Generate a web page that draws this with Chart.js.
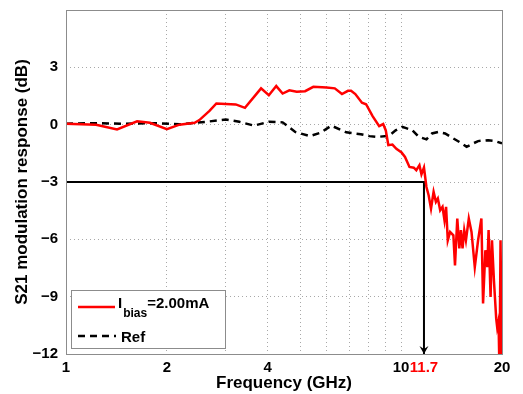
<!DOCTYPE html>
<html>
<head>
<meta charset="utf-8">
<script src="https://cdn.jsdelivr.net/npm/chart.js@4/dist/chart.umd.min.js"></script>
<style>
  html, body { margin: 0; padding: 0; background: #fff; }
  #wrap { width: 523px; height: 394px; }
</style>
</head>
<body>
<div id="wrap"><canvas id="myChart" width="523" height="394"></canvas></div>
<script>
// measured response, Ibias = 2.00 mA
const freqBias = [1.0, 1.23, 1.42, 1.63, 1.78, 2.0, 2.18, 2.42, 2.5, 2.68, 2.81, 3.21, 3.42, 3.82, 4.03, 4.24, 4.43, 4.64, 4.88, 5.17, 5.47, 5.99, 6.34, 6.66, 6.94, 7.09, 7.3, 7.64, 7.86, 8.22, 8.6, 8.84, 9.0, 9.16, 9.42, 9.68, 10.03, 10.27, 10.59, 10.91, 11.1, 11.34, 11.5, 11.7, 11.9, 12.08, 12.28, 12.5, 12.7, 12.87, 13.08, 13.29, 13.47, 13.62, 13.78, 14.0, 14.32, 14.48, 14.71, 14.92, 15.08, 15.25, 15.43, 15.61, 15.92, 16.22, 16.59, 16.97, 17.36, 17.56, 17.84, 18.08, 18.24, 18.49, 18.67, 18.92, 19.22, 19.35, 19.53, 19.66, 19.8, 19.98];
const dbBias = [0.05, 0, -0.25, 0.18, 0.1, -0.23, 0, 0.1, 0.24, 0.72, 1.11, 1.06, 0.88, 1.9, 1.54, 2.02, 1.63, 1.8, 1.72, 1.75, 1.98, 1.95, 1.9, 1.6, 1.77, 1.77, 1.6, 1.15, 1.07, 0.45, -0.08, 0.03, -0.3, -1.07, -1.04, -1.26, -1.45, -1.69, -2.21, -2.25, -2.38, -2.12, -2.6, -2.24, -3.26, -3.69, -4.39, -3.52, -4.04, -3.86, -4.48, -4.3, -5.0, -4.3, -6.05, -5.61, -5.79, -7.36, -4.91, -6.48, -5.52, -6.48, -5.52, -6.05, -4.91, -5.61, -7.45, -6.05, -4.91, -9.36, -6.57, -7.45, -5.52, -9.02, -6.05, -8.14, -10.15, -10.6, -10.24, -13, -6.05, -13];

// reference response
const freqRef = [1.0, 1.23, 1.5, 1.84, 2.18, 2.62, 3.0, 3.29, 3.64, 4.03, 4.43, 4.83, 5.35, 5.75, 6.19, 6.86, 7.58, 8.04, 8.5, 9.21, 9.63, 10.08, 10.3, 10.79, 11.29, 11.9, 12.36, 12.92, 13.53, 14.32, 15.16, 15.68, 16.41, 16.97, 18.18, 19.0, 20.0];
const dbRef = [0.05, 0.08, 0.05, 0.08, 0.02, 0.15, 0.27, 0.15, -0.05, 0.15, 0.12, -0.38, -0.6, -0.42, -0.05, -0.4, -0.5, -0.6, -0.64, -0.58, -0.3, -0.12, -0.17, -0.29, -0.64, -0.77, -0.46, -0.38, -0.46, -0.72, -0.98, -1.16, -0.98, -0.86, -0.81, -0.85, -0.98];

// -3 dB marker
const cutFreq = [1, 11.7, 11.7];
const cutDb = [-3, -3, -12];

const xTicks = [1, 2, 3, 4, 5, 6, 7, 8, 9, 10, 11.7, 20];
const xLabels = {1: '1', 2: '2', 4: '4', 10: '10', 11.7: '11.7', 20: '20'};
const yTicks = [-12, -9, -6, -3, 0, 3];

function pts(xs, ys) {
  return xs.map((x, i) => ({x: x, y: ys[i]}));
}

const FONT = '"Liberation Sans", Arial, sans-serif';
const RED = '#ff0000';

const extras = {
  id: 'extras',
  afterDatasetsDraw(chart) {
    const ctx = chart.ctx;
    const a = chart.chartArea;
    const xs = chart.scales.x, ys = chart.scales.y;
    ctx.save();
    // arrow head of the cut-off marker
    const tx = xs.getPixelForValue(11.7), ty = ys.getPixelForValue(-12);
    ctx.fillStyle = '#000';
    ctx.beginPath();
    ctx.moveTo(tx, ty);
    ctx.lineTo(tx - 4.5, ty - 8);
    ctx.lineTo(tx, ty - 5);
    ctx.lineTo(tx + 4.5, ty - 8);
    ctx.closePath();
    ctx.fill();

    // frame
    ctx.strokeStyle = '#8c8c8c';
    ctx.lineWidth = 1;
    ctx.strokeRect(a.left + 0.5, a.top + 0.5, a.right - a.left, a.bottom - a.top);

    // legend
    const lx = 71, ly = 290, lw = 154, lh = 58;
    ctx.fillStyle = '#fff';
    ctx.fillRect(lx, ly, lw, lh);
    ctx.strokeStyle = '#8c8c8c';
    ctx.strokeRect(lx + 0.5, ly + 0.5, lw, lh);

    ctx.lineWidth = 2.5;
    ctx.strokeStyle = RED;
    ctx.beginPath();
    ctx.moveTo(78, 307);
    ctx.lineTo(115, 307);
    ctx.stroke();

    ctx.strokeStyle = '#000';
    ctx.setLineDash([7, 5]);
    ctx.beginPath();
    ctx.moveTo(78, 336);
    ctx.lineTo(116, 336);
    ctx.stroke();
    ctx.setLineDash([]);

    ctx.fillStyle = '#000';
    ctx.textBaseline = 'alphabetic';
    ctx.textAlign = 'left';
    ctx.font = 'bold 15px ' + FONT;
    ctx.fillText('I', 118, 308);
    let w = ctx.measureText('I').width;
    ctx.font = 'bold 12px ' + FONT;
    ctx.fillText('bias', 119 + w, 317);
    const w2 = ctx.measureText('bias').width;
    ctx.font = 'bold 15px ' + FONT;
    ctx.fillText('=2.00mA', 119 + w + w2, 308);
    ctx.fillText('Ref', 121, 342);
    ctx.restore();
  }
};

const canvas = document.getElementById('myChart');
const myChart = new Chart(canvas.getContext('2d'), {
  type: 'line',
  data: {
    datasets: [
      {
        label: 'Ibias=2.00mA',
        data: pts(freqBias, dbBias),
        borderColor: RED,
        borderWidth: 2.5,
        pointRadius: 0,
        tension: 0
      },
      {
        label: 'Ref',
        data: pts(freqRef, dbRef),
        borderColor: '#000',
        borderWidth: 2.5,
        borderDash: [7, 5],
        pointRadius: 0,
        tension: 0
      },
      {
        label: 'cut',
        data: pts(cutFreq, cutDb),
        borderColor: '#000',
        borderWidth: 2,
        pointRadius: 0,
        tension: 0
      }
    ]
  },
  options: {
    responsive: false,
    animation: false,
    layout: { padding: { top: 10, right: 21, left: 0, bottom: 0 } },
    plugins: {
      legend: { display: false },
      tooltip: { enabled: false }
    },
    scales: {
      x: {
        type: 'logarithmic',
        min: 1,
        max: 20,
        afterBuildTicks: (s) => { s.ticks = xTicks.map(v => ({value: v})); },
        afterFit: (s) => { s.height = 40; s.paddingLeft = 0; s.paddingRight = 0; },
        ticks: {
          autoSkip: false,
          maxRotation: 0,
          padding: 5,
          font: { family: FONT, size: 15, weight: 'bold' },
          color: (c) => (c.tick && c.tick.value === 11.7) ? RED : '#000',
          callback: (v) => xLabels[v] !== undefined ? xLabels[v] : ''
        },
        grid: {
          drawTicks: false,
          color: (c) => (c.tick && (c.tick.value === 1 || c.tick.value === 11.7 || c.tick.value === 20)) ? 'rgba(0,0,0,0)' : '#a8a8a8',
          lineWidth: 1
        },
        border: { display: false, dash: [1, 3] },
        title: {
          display: true,
          text: 'Frequency (GHz)',
          font: { family: FONT, size: 17, weight: 'bold' },
          color: '#000',
          padding: { top: 0, bottom: 0 }
        }
      },
      y: {
        min: -12,
        max: 6,
        afterBuildTicks: (s) => { s.ticks = yTicks.map(v => ({value: v})); },
        afterFit: (s) => { s.width = 66; s.paddingTop = 0; s.paddingBottom = 0; },
        ticks: {
          padding: 8,
          font: { family: FONT, size: 15, weight: 'bold' },
          color: '#000',
          callback: (v) => v < 0 ? '\u2212' + Math.abs(v) : String(v)
        },
        grid: {
          drawTicks: false,
          color: (c) => (c.tick && c.tick.value === -12) ? 'rgba(0,0,0,0)' : '#a8a8a8',
          lineWidth: 1
        },
        border: { display: false, dash: [1, 3] },
        title: {
          display: true,
          text: 'S21 modulation response (dB)',
          font: { family: FONT, size: 17, weight: 'bold' },
          color: '#000',
          padding: { top: 12, bottom: 0 }
        }
      }
    }
  },
  plugins: [extras]
});
</script>
</body>
</html>
